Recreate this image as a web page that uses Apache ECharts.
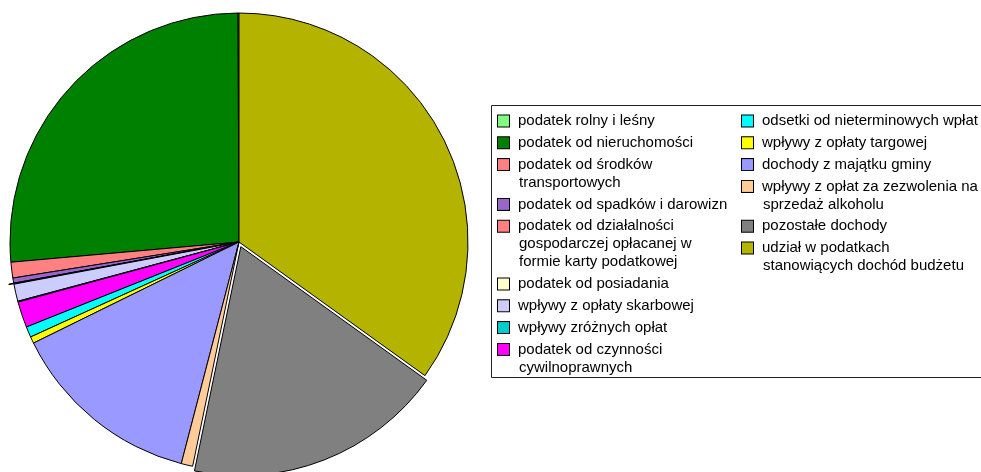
<!DOCTYPE html>
<html>
<head>
<meta charset="utf-8">
<script src="https://cdn.jsdelivr.net/npm/echarts@6/dist/echarts.min.js"></script>
<style>html,body{margin:0;padding:0;background:#fff}#c{width:981px;height:472px}</style>
</head>
<body>
<div id="c"></div>
<script>
const categories = [
  'podatek rolny i leśny',
  'podatek od nieruchomości',
  'podatek od środków transportowych',
  'podatek od spadków i darowizn',
  'podatek od działalności gospodarczej opłacanej w formie karty podatkowej',
  'podatek od posiadania',
  'wpływy z opłaty skarbowej',
  'wpływy zróżnych opłat',
  'podatek od czynności cywilnoprawnych',
  'odsetki od nieterminowych wpłat',
  'wpływy z opłaty targowej',
  'dochody z majątku gminy',
  'wpływy z opłat za zezwolenia na sprzedaż alkoholu',
  'pozostałe dochody',
  'udział w podatkach stanowiących dochód budżetu'
];
const legendLabels = [
  'podatek rolny i leśny',
  'podatek od nieruchomości',
  'podatek od środków\ntransportowych',
  'podatek od spadków i darowizn',
  'podatek od działalności\ngospodarczej opłacanej w\nformie karty podatkowej',
  'podatek od posiadania',
  'wpływy z opłaty skarbowej',
  'wpływy zróżnych opłat',
  'podatek od czynności\ncywilnoprawnych',
  'odsetki od nieterminowych wpłat',
  'wpływy z opłaty targowej',
  'dochody z majątku gminy',
  'wpływy z opłat za zezwolenia na\nsprzedaż alkoholu',
  'pozostałe dochody',
  'udział w podatkach\nstanowiących dochód budżetu'
];
// shares in percent
const values = [0.08, 26.33, 1.11, 0.36, 0.04, 0.03, 1.22, 0.06, 1.83, 0.75, 0.47, 13.67, 0.81, 18.33, 34.92];
const colors = ['#80FF80', '#008000', '#FF8080', '#9966CC', '#FF8080', '#FFFFCC', '#CCCCFF', '#00CCCC', '#FF00FF', '#00FFFF', '#FFFF00', '#9999FF', '#FFCC99', '#808080', '#B3B300'];
const explodedSlices = ['pozostałe dochody', 'podatek od działalności gospodarczej opłacanej w formie karty podatkowej'];

const FONT = "'Liberation Sans', Arial, sans-serif";
const rich = {
  t: { fontFamily: FONT, fontSize: 15, lineHeight: 18, height: 18, color: '#000' },
  g: { width: 9, height: 18, lineHeight: 18 },
  s: { width: 21, height: 18, lineHeight: 18 }
};
colors.forEach((c, i) => {
  rich['c' + i] = { width: 11, height: 11, backgroundColor: c, borderColor: '#000', borderWidth: 1 };
});
function fmt(name) {
  const i = categories.indexOf(name);
  const lines = legendLabels[i].split('\n');
  let s = '{c' + i + '|}{g|}{t|' + lines[0] + '}';
  for (let k = 1; k < lines.length; k++) s += '\n{s|}{t|' + lines[k] + '}';
  return s;
}
const legendBase = {
  orient: 'vertical',
  itemWidth: 0,
  itemHeight: 0,
  itemGap: 3.8,
  padding: 0,
  selectedMode: false,
  itemStyle: { opacity: 0 },
  formatter: fmt,
  textStyle: { fontFamily: FONT, fontSize: 15, lineHeight: 18, color: '#000', rich: rich }
};

const chart = echarts.init(document.getElementById('c'), null, { renderer: 'canvas' });
chart.setOption({
  animation: false,
  backgroundColor: '#fff',
  graphic: [{
    type: 'rect',
    z: -10,
    shape: { x: 491.5, y: 105.5, width: 500, height: 272 },
    style: { fill: '#fff', stroke: '#222', lineWidth: 1 }
  }],
  legend: [
    Object.assign({}, legendBase, { left: 492, top: 112, data: categories.slice(0, 9) }),
    Object.assign({}, legendBase, { left: 736, top: 112, data: categories.slice(9) })
  ],
  series: [{
    type: 'pie',
    center: [239, 242],
    radius: 229,
    startAngle: 90,
    clockwise: false,
    selectedMode: 'multiple',
    selectedOffset: 5,
    label: { show: false },
    labelLine: { show: false },
    emphasis: { disabled: true, scale: false },
    itemStyle: { borderColor: '#000', borderWidth: 1 },
    data: categories.map((n, i) => ({
      name: n,
      value: values[i],
      selected: explodedSlices.indexOf(n) >= 0,
      itemStyle: { color: colors[i] }
    }))
  }]
});
</script>
</body>
</html>
